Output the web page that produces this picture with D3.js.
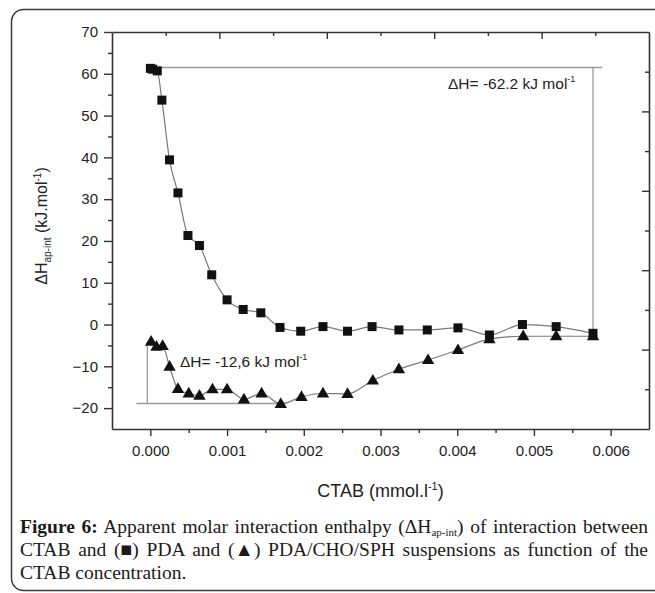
<!DOCTYPE html>
<html>
<head>
<meta charset="utf-8">
<script src="https://cdn.jsdelivr.net/npm/d3@7"></script>
<style>
    body { margin: 0; background: #fff; }
    svg { display: block; }
</style>
</head>
<body>
<svg id="chart"></svg>
<script>
// CTAB concentration (mmol/l) and enthalpy (kJ/mol)
let pdaX = [0.00000, 0.00003, 0.00009, 0.00015, 0.00025, 0.00036, 0.00049, 0.00064, 0.00080, 0.00100,
    0.00121, 0.00144, 0.00169, 0.00196, 0.00225, 0.00257, 0.00289, 0.00324, 0.00361, 0.00401,
    0.00442, 0.00485, 0.00529, 0.00577];
let pdaY = [61.3, 61.1, 60.7, 53.7, 39.4, 31.5, 21.3, 18.9, 11.9, 5.9,
    3.6, 2.8, -0.7, -1.6, -0.5, -1.6, -0.5, -1.3, -1.3, -0.8,
    -2.5, 0.0, -0.5, -2.1];

let mixX = [0.00001, 0.00008, 0.00016, 0.00025, 0.00036, 0.00050, 0.00064, 0.00081, 0.00100, 0.00122,
    0.00145, 0.00170, 0.00197, 0.00225, 0.00257, 0.00290, 0.00324, 0.00362, 0.00401, 0.00442,
    0.00486, 0.00529, 0.00577];
let mixY = [-4.1, -5.3, -5.1, -10.1, -15.4, -16.5, -17.0, -15.5, -15.5, -17.9,
    -16.5, -19.0, -17.3, -16.5, -16.6, -13.4, -10.7, -8.5, -6.1, -3.5,
    -2.8, -2.8, -2.8];

let xTicks = [0, 0.001, 0.002, 0.003, 0.004, 0.005, 0.006];
let xMinor = [0.0005, 0.0015, 0.0025, 0.0035, 0.0045, 0.0055];
let yTicks = [-20, -10, 0, 10, 20, 30, 40, 50, 60, 70];
let yMinor = [-15, -5, 5, 15, 25, 35, 45, 55, 65];

// annotation guides: [x, y] end points
let pdaGuideH = [[0.00009, 61.5], [0.00589, 61.5]];
let pdaGuideV = [[0.00577, 61.5], [0.00577, -2.1]];
let mixGuideV = [[-0.00004, -4.1], [-0.00004, -18.9]];
let mixGuideH = [[-0.00018, -18.9], [0.00170, -18.9]];

let width = 655;
let height = 593;
let plot = {left: 112, right: 649, top: 32, bottom: 429};

let svg = d3.select('#chart')
    .attr('width', width)
    .attr('height', height);

// rounded frame around the figure
svg.append('rect')
    .attr('x', 11.5)
    .attr('y', 9.5)
    .attr('width', 700)
    .attr('height', 581)
    .attr('rx', 12)
    .attr('fill', 'none')
    .attr('stroke', '#3a3a3a')
    .attr('stroke-width', 1.5);

let xScale = d3.scaleLinear()
    .domain([-0.0005, 0.0065])
    .range([plot.left, plot.right]);

let yScale = d3.scaleLinear()
    .domain([-25, 70])
    .range([plot.bottom, plot.top]);

let axisColor = '#333';
let labelFont = 'Liberation Sans, Arial, sans-serif';

function styleAxis(g) {
    g.attr('font-size', null);
    g.select('.domain').attr('stroke', axisColor).attr('stroke-width', 1.6);
    g.selectAll('.tick line').attr('stroke', axisColor).attr('stroke-width', 1.4);
    g.selectAll('.tick text')
        .attr('fill', '#222')
        .style('font-family', labelFont)
        .style('font-size', '15px');
}

// bottom axis
svg.append('g')
    .attr('transform', 'translate(0,' + plot.bottom + ')')
    .call(d3.axisBottom(xScale).tickValues(xTicks).tickSize(7).tickSizeOuter(0).tickPadding(9)
        .tickFormat(d3.format('.3f')))
    .call(styleAxis);
svg.append('g')
    .attr('transform', 'translate(0,' + plot.bottom + ')')
    .call(d3.axisBottom(xScale).tickValues(xMinor).tickSize(4).tickFormat(''))
    .call(styleAxis)
    .call(g => g.select('.domain').remove());

// left axis
svg.append('g')
    .attr('transform', 'translate(' + plot.left + ',0)')
    .call(d3.axisLeft(yScale).tickValues(yTicks).tickSize(8).tickSizeOuter(0).tickPadding(6))
    .call(styleAxis);
svg.append('g')
    .attr('transform', 'translate(' + plot.left + ',0)')
    .call(d3.axisLeft(yScale).tickValues(yMinor).tickSize(4).tickFormat(''))
    .call(styleAxis)
    .call(g => g.select('.domain').remove());

// top and right mirror axes have their own even division into 10 steps
let topScale = d3.scaleLinear().domain([0, 10]).range([plot.left, plot.right]);
let rightScale = d3.scaleLinear().domain([0, 10]).range([plot.top, plot.bottom]);
let steps = d3.range(1, 10);

svg.append('g')
    .attr('transform', 'translate(0,' + plot.top + ')')
    .call(d3.axisTop(topScale).tickValues(steps.filter(d => d % 2 === 0)).tickSize(-7).tickSizeOuter(0).tickFormat(''))
    .call(styleAxis);
svg.append('g')
    .attr('transform', 'translate(0,' + plot.top + ')')
    .call(d3.axisTop(topScale).tickValues(steps.filter(d => d % 2 === 1)).tickSize(-4).tickFormat(''))
    .call(styleAxis)
    .call(g => g.select('.domain').remove());

svg.append('g')
    .attr('transform', 'translate(' + plot.right + ',0)')
    .call(d3.axisRight(rightScale).tickValues(steps.filter(d => d % 2 === 0)).tickSize(-7).tickSizeOuter(0).tickFormat(''))
    .call(styleAxis);
svg.append('g')
    .attr('transform', 'translate(' + plot.right + ',0)')
    .call(d3.axisRight(rightScale).tickValues(steps.filter(d => d % 2 === 1)).tickSize(-4).tickFormat(''))
    .call(styleAxis)
    .call(g => g.select('.domain').remove());

// guide lines
let straight = d3.line()
    .x(d => xScale(d[0]))
    .y(d => yScale(d[1]));

[pdaGuideH, pdaGuideV, mixGuideV, mixGuideH].forEach(function (pts) {
    svg.append('path')
        .attr('d', straight(pts))
        .attr('fill', 'none')
        .attr('stroke', '#9a9a9a')
        .attr('stroke-width', 1.3);
});

// series lines
let curve = d3.line()
    .x(d => xScale(d[0]))
    .y(d => yScale(d[1]))
    .curve(d3.curveMonotoneX);

let pdaData = pdaX.map((x, i) => [x, pdaY[i]]);
let mixData = mixX.map((x, i) => [x, mixY[i]]);

[pdaData, mixData].forEach(function (data) {
    svg.append('path')
        .attr('d', curve(data))
        .attr('fill', 'none')
        .attr('stroke', '#7a7a7a')
        .attr('stroke-width', 1.2);
});

// markers
svg.selectAll('.sq')
    .data(pdaData)
    .enter().append('rect')
    .attr('class', 'sq')
    .attr('x', d => xScale(d[0]) - 4.5)
    .attr('y', d => yScale(d[1]) - 4.5)
    .attr('width', 9)
    .attr('height', 9)
    .attr('fill', '#111');

let tri = d3.symbol().type(d3.symbolTriangle).size(66);
svg.selectAll('.tri')
    .data(mixData)
    .enter().append('path')
    .attr('class', 'tri')
    .attr('transform', d => 'translate(' + xScale(d[0]) + ',' + (yScale(d[1]) + 0.5) + ')')
    .attr('d', tri)
    .attr('fill', '#111');

// annotation texts
function deltaLabel(x, y, value) {
    let t = svg.append('text')
        .attr('x', x)
        .attr('y', y)
        .attr('fill', '#222')
        .style('font-family', labelFont)
        .style('font-size', '15.5px');
    t.append('tspan').text('\u0394H= ' + value + ' kJ mol');
    t.append('tspan').attr('dy', -7).style('font-size', '9px').text('-1');
}
deltaLabel(448, 89, '-62.2');
deltaLabel(180, 367, '-12,6');

// axis titles
let yTitle = svg.append('text')
    .attr('transform', 'translate(47,226) rotate(-90)')
    .attr('text-anchor', 'middle')
    .attr('fill', '#222')
    .style('font-family', labelFont)
    .style('font-size', '16px');
yTitle.append('tspan').text('\u0394H');
yTitle.append('tspan').attr('dy', 4).style('font-size', '10px').text('ap-int');
yTitle.append('tspan').attr('dy', -4).text(' (kJ.mol');
yTitle.append('tspan').attr('dy', -6).style('font-size', '10px').text('-1');
yTitle.append('tspan').attr('dy', 6).text(')');

let xTitle = svg.append('text')
    .attr('x', (plot.left + plot.right) / 2)
    .attr('y', 497)
    .attr('text-anchor', 'middle')
    .attr('fill', '#222')
    .style('font-family', labelFont)
    .style('font-size', '18px');
xTitle.append('tspan').text('CTAB (mmol.l');
xTitle.append('tspan').attr('dy', -7).style('font-size', '11px').text('-1');
xTitle.append('tspan').attr('dy', 7).text(')');

// caption, first two lines justified by widening the word gaps
let serif = 'Liberation Serif, Times New Roman, serif';
let captionWidth = 628;

function captionLine(y) {
    return svg.append('text')
        .attr('x', 20)
        .attr('y', y)
        .attr('fill', '#1a1a1a')
        .style('font-family', serif)
        .style('font-size', '19.5px');
}

function justify(t) {
    let natural = t.node().getComputedTextLength();
    let gaps = (t.text().match(/ /g) || []).length;
    if (gaps > 0 && natural < captionWidth) {
        t.style('word-spacing', ((captionWidth - natural) / gaps) + 'px');
    }
}

let cap1 = captionLine(533);
cap1.append('tspan').style('font-weight', 'bold').text('Figure 6:');
cap1.append('tspan').text(' Apparent molar interaction enthalpy (\u0394H');
cap1.append('tspan').attr('dy', 3).style('font-size', '11px').text('ap-int');
cap1.append('tspan').attr('dy', -3).text(') of interaction between');
justify(cap1);

let cap2 = captionLine(556)
    .text('CTAB and (\u25A0) PDA and (\u25B2) PDA/CHO/SPH suspensions as function of the');
justify(cap2);

captionLine(579).text('CTAB concentration.');
</script>
</body>
</html>
